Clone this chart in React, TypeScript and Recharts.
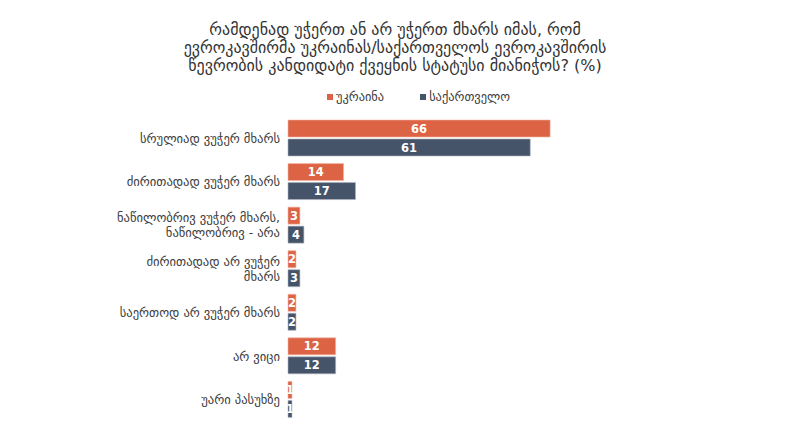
import { BarChart, Bar, XAxis, YAxis, LabelList } from "recharts";

const categories = [
  "სრულიად ვუჭერ მხარს",
  "ძირითადად ვუჭერ მხარს",
  "ნაწილობრივ ვუჭერ მხარს,\nნაწილობრივ - არა",
  "ძირითადად არ ვუჭერ\nმხარს",
  "საერთოდ არ ვუჭერ მხარს",
  "არ ვიცი",
  "უარი პასუხზე",
];
const ukraine = [66, 14, 3, 2, 2, 12, 1];
const georgia = [61, 17, 4, 3, 2, 12, 1];

const seriesNames = { ukraine: "უკრაინა", georgia: "საქართველო" };
const titleLines = [
  "რამდენად უჭერთ ან არ უჭერთ მხარს იმას, რომ",
  "ევროკავშირმა უკრაინას/საქართველოს ევროკავშირის",
  "წევრობის კანდიდატი ქვეყნის სტატუსი მიანიჭოს? (%)",
];

const ORANGE = "#DC6344";
const NAVY = "#465469";
const FONT = "'DejaVu Sans', sans-serif";

const data = categories.map((c, i) => ({ cat: c, ukraine: ukraine[i], georgia: georgia[i] }));

function CatTick(props: any) {
  const { x, y, payload } = props;
  const lines = String(payload.value).split("\n");
  const lh = 15;
  const y0 = y - ((lines.length - 1) * lh) / 2;
  return (
    <text x={x} y={y0} textAnchor="end" fill="#404040" fontSize={12.6} fontFamily={FONT} dominantBaseline="central">
      {lines.map((l, i) => (
        <tspan key={i} x={x} y={y0 + i * lh}>
          {l}
        </tspan>
      ))}
    </text>
  );
}

function LegendBox() {
  const items = [
    { name: seriesNames.ukraine, color: ORANGE },
    { name: seriesNames.georgia, color: NAVY },
  ];
  return (
    <div
      style={{
        position: "absolute",
        top: 88,
        left: 327,
        display: "flex",
        gap: 36,
        fontFamily: FONT,
        fontSize: 12.4,
        lineHeight: "18px",
        color: "#404040",
      }}
    >
      {items.map((it) => (
        <span key={it.name} style={{ display: "flex", alignItems: "center" }}>
          <span style={{ width: 6, height: 6, background: it.color, marginRight: 3, display: "inline-block" }} />
          {it.name}
        </span>
      ))}
    </div>
  );
}

export default function App() {
  return (
    <div style={{ position: "relative", width: 800, height: 441, background: "#fff" }}>
      <style>{`body{margin:0}`}</style>
      <div
        style={{
          position: "absolute",
          left: 0,
          width: 790,
          top: 21,
          textAlign: "center",
          fontFamily: FONT,
          fontSize: 16,
          lineHeight: "18px",
          color: "#333",
        }}
      >
        {titleLines.map((l) => (
          <div key={l}>{l}</div>
        ))}
      </div>
      <LegendBox />
      <BarChart
        width={800}
        height={441}
        data={data}
        layout="vertical"
        margin={{ top: 116, right: 234, bottom: 20, left: 0 }}
        barSize={17}
        barGap={2}
        style={{ position: "absolute", left: 0, top: 0 }}
      >
        <XAxis type="number" domain={[0, 70]} hide />
        <YAxis
          type="category"
          dataKey="cat"
          width={288}
          axisLine={false}
          tickLine={false}
          tickMargin={2}
          tick={<CatTick />}
          interval={0}
        />
        <Bar dataKey="ukraine" name={seriesNames.ukraine} fill={ORANGE} stroke="#F3B7A6" strokeWidth={0.6} isAnimationActive={false}>
          <LabelList dataKey="ukraine" position="center" fill="#fff" fontSize={11.5} fontWeight="bold" fontFamily={FONT} />
        </Bar>
        <Bar dataKey="georgia" name={seriesNames.georgia} fill={NAVY} stroke="#AEB6C2" strokeWidth={0.6} isAnimationActive={false}>
          <LabelList dataKey="georgia" position="center" fill="#fff" fontSize={11.5} fontWeight="bold" fontFamily={FONT} />
        </Bar>
      </BarChart>
    </div>
  );
}
